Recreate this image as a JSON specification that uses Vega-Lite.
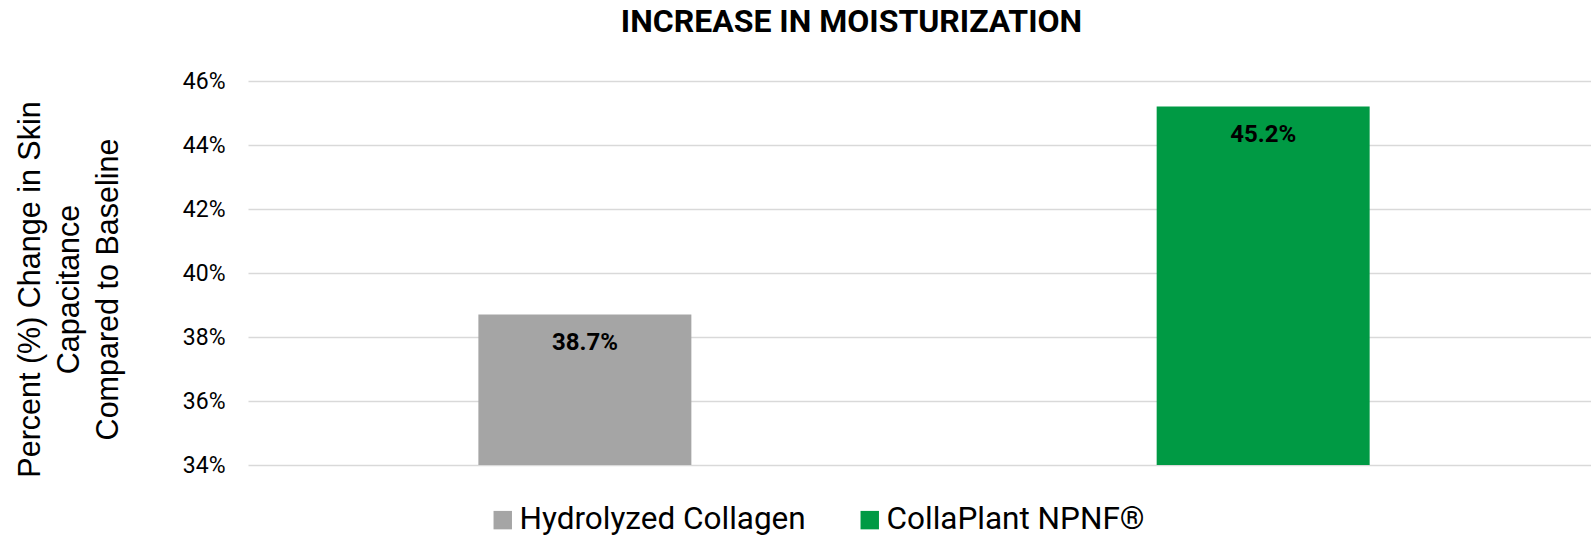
{
  "$schema": "https://vega.github.io/schema/vega-lite/v6.json",
  "width": 1343,
  "height": 384,
  "autosize": {"type": "none"},
  "padding": {"left": 248, "top": 81, "right": 0, "bottom": 73},
  "background": "white",
  "config": {"view": {"stroke": null}, "font": "Roboto"},
  "title": {
    "text": "INCREASE IN MOISTURIZATION",
    "font": "Roboto",
    "fontSize": 32,
    "fontWeight": "bold",
    "color": "#000000",
    "anchor": "middle",
    "frame": "group",
    "dx": -68,
    "offset": 6,
    "baseline": "alphabetic"
  },
  "data": {
    "values": [
      {"product": "Hydrolyzed Collagen", "value": 0.387},
      {"product": "CollaPlant NPNF®", "value": 0.452}
    ]
  },
  "encoding": {
    "x": {
      "field": "product",
      "type": "nominal",
      "sort": ["Hydrolyzed Collagen", "CollaPlant NPNF®"],
      "scale": {"paddingInner": 0.686, "paddingOuter": 0.333, "align": 0.51},
      "axis": null
    },
    "y": {
      "field": "value",
      "type": "quantitative",
      "scale": {"domain": [0.34, 0.46], "zero": false, "nice": false},
      "axis": {
        "format": ".0%",
        "values": [0.34, 0.36, 0.38, 0.40, 0.42, 0.44, 0.46],
        "domain": false,
        "ticks": false,
        "labelPadding": 23,
        "labelFont": "Roboto",
        "labelFontSize": 23,
        "labelColor": "#000000",
        "gridColor": "#D9D9D9",
        "gridWidth": 1.5,
        "title": ["Percent (%) Change in Skin", "Capacitance", "Compared to Baseline"],
        "titleFont": "Liberation Sans",
        "titleFontSize": 30.5,
        "titleFontWeight": "normal",
        "titleColor": "#000000",
        "titleLineHeight": 39,
        "titleX": -233,
        "titleY": 208,
        "titleAngle": -90,
        "titleAlign": "center",
        "titleBaseline": "top"
      }
    }
  },
  "layer": [
    {
      "mark": {"type": "bar", "clip": true},
      "encoding": {
        "y2": {"datum": 0.34},
        "color": {
          "field": "product",
          "type": "nominal",
          "scale": {
            "domain": ["Hydrolyzed Collagen", "CollaPlant NPNF®"],
            "range": ["#A5A5A5", "#009A44"]
          },
          "legend": {
            "orient": "none",
            "legendX": 239,
            "legendY": 423,
            "direction": "horizontal",
            "title": null,
            "symbolType": "square",
            "symbolSize": 340,
            "symbolStrokeWidth": 0,
            "symbolOpacity": 1,
            "labelFont": "Roboto",
            "labelFontSize": 31.5,
            "labelColor": "#000000",
            "labelOffset": 1,
            "labelLimit": 500,
            "columnPadding": 48
          }
        }
      }
    },
    {
      "mark": {
        "type": "text",
        "baseline": "alphabetic",
        "dy": 35,
        "font": "Roboto",
        "fontSize": 24,
        "fontWeight": "bold",
        "color": "#000000"
      },
      "encoding": {
        "text": {"field": "value", "type": "quantitative", "format": ".1%"}
      }
    }
  ]
}
